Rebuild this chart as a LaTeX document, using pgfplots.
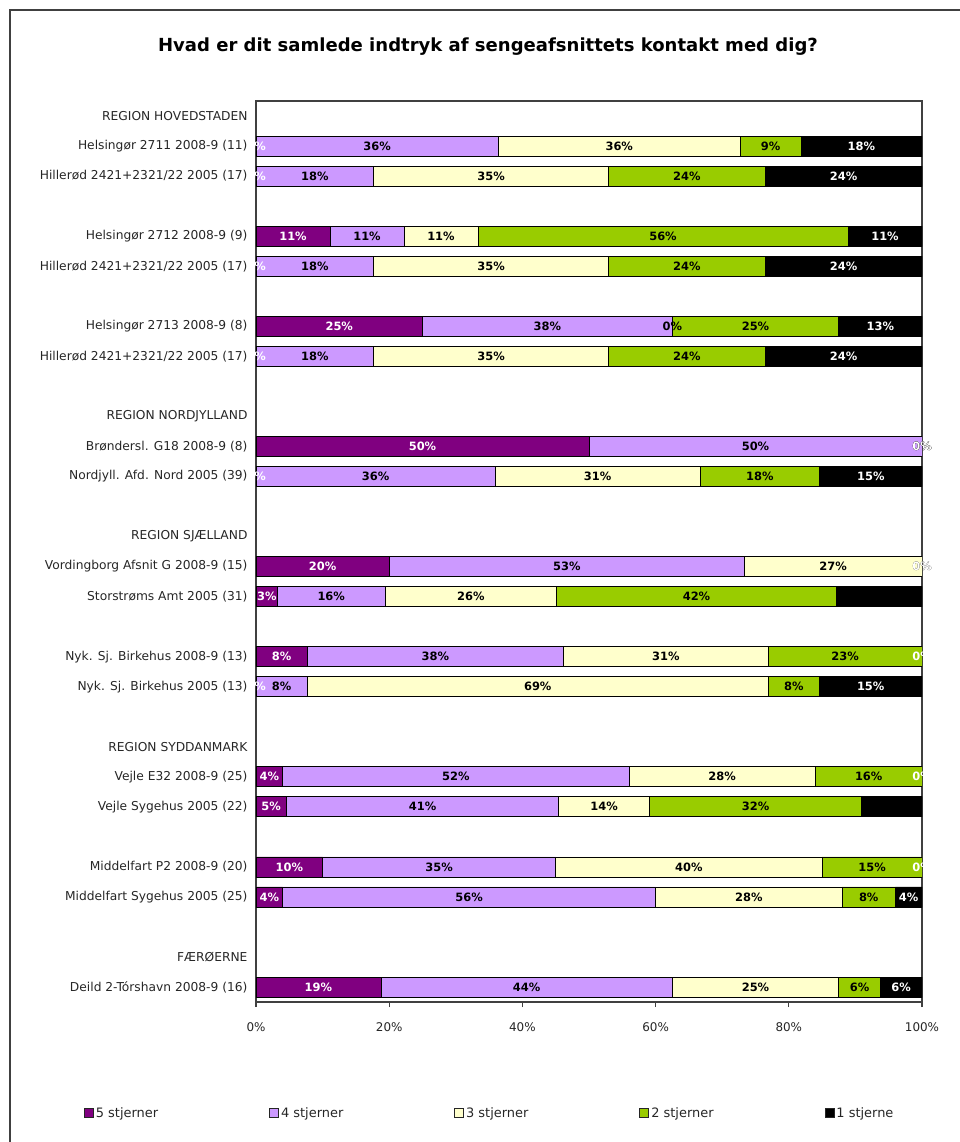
\documentclass[border=0pt]{standalone}
\usepackage{pgfplots}
\pgfplotsset{compat=1.18}
\usepackage{fontspec}
\setmainfont{DejaVu Sans}
\newfontfamily\titlefont{DejaVu Sans}
\definecolor{cfive}{HTML}{800080}
\definecolor{cfour}{HTML}{CC99FF}
\definecolor{cthree}{HTML}{FFFFCC}
\definecolor{ctwo}{HTML}{99CC00}
\definecolor{cone}{HTML}{000000}
\definecolor{frame}{HTML}{404040}
\pgfplotsset{geom/.style={at={(256bp,-1002bp)}, anchor=south west,
  scale only axis, width=666bp, height=901bp,
  xmin=0, xmax=100, ymin=0.5, ymax=30.5, y dir=reverse}}
\begin{document}
\begin{tikzpicture}
\useasboundingbox (0,0) rectangle (960bp,-1142bp);
\draw[frame, line width=1.3bp] (10bp,-1142bp) -- (10bp,-10bp) -- (960bp,-10bp);
\node[font=\titlefont\bfseries\fontsize{18.1}{20}\selectfont] at (488bp,-47bp) {Hvad er dit samlede indtryk af sengeafsnittets kontakt med dig?};
\begin{axis}[
  geom,
  xbar stacked, bar width=20bp,
  ytick={1,...,30},
  yticklabels={REGION HOVEDSTADEN,Helsingør 2711 2008-9 (11),Hillerød 2421+2321/22 2005 (17),,Helsingør 2712 2008-9 (9),Hillerød 2421+2321/22 2005 (17),,Helsingør 2713 2008-9 (8),Hillerød 2421+2321/22 2005 (17),,REGION NORDJYLLAND,Brøndersl. G18 2008-9 (8),Nordjyll. Afd. Nord 2005 (39),,REGION SJÆLLAND,Vordingborg Afsnit G 2008-9 (15),Storstrøms Amt 2005 (31),,Nyk. Sj. Birkehus 2008-9 (13),Nyk. Sj. Birkehus 2005 (13),,REGION SYDDANMARK,Vejle E32 2008-9 (25),Vejle Sygehus 2005 (22),,Middelfart P2 2008-9 (20),Middelfart Sygehus 2005 (25),,FÆRØERNE,Deild 2-Tórshavn 2008-9 (16)},
  y tick style={draw=none},
  yticklabel style={font=\fontsize{12.3}{14}\selectfont},
  xtick={0,20,40,60,80,100},
  xticklabel={\pgfmathprintnumber{\tick}\%},
  /pgf/number format/assume math mode=true,
  xtick pos=left, tick align=outside, major tick length=5bp,
  x tick style={frame, line width=1.3bp},
  axis line style={frame, line width=1.3bp},
  ticklabel style={text=black!85},
  xticklabel style={font=\fontsize{12}{14}\selectfont, yshift=-12bp},
  nodes near coords={\pgfmathprintnumber[fixed,precision=0]{\pgfplotspointmeta}\%},
  every node near coord/.append style={anchor=center, font=\bfseries\fontsize{11.5}{13}\selectfont},
  legend style={at={(axis description cs:0.351,-0.123)}, anchor=center, draw=none, fill=none,
    legend columns=5, font=\fontsize{13}{15}\selectfont, text=black!85,
    /tikz/every even column/.append style={column sep=109bp}},
  sq/.style={legend image code/.code={\draw[##1, draw=black!85, line width=0.8bp] (0bp,-4.5bp) rectangle (9bp,4.5bp);}},
]
\addplot[fill=cfive, draw=black, line width=0.7bp, sq, every node near coord/.append style={text=white}] coordinates {
(0,2) (0,3) (11.11,5) (0,6) (25,8) (0,9) (50,12) (0,13) (20,16) (3.23,17) (7.69,19) (0,20) (4,23) (4.55,24) (10,26) (4,27) (18.75,30)};
\addplot[fill=cfour, draw=black, line width=0.7bp, sq, every node near coord/.append style={text=black}] coordinates {
(36.36,2) (17.65,3) (11.11,5) (17.65,6) (37.5,8) (17.65,9) (50,12) (35.90,13) (53.33,16) (16.13,17) (38.46,19) (7.69,20) (52,23) (40.91,24) (35,26) (56,27) (43.75,30)};
\addplot[fill=cthree, draw=black, line width=0.7bp, sq, every node near coord/.append style={text=black}] coordinates {
(36.36,2) (35.29,3) (11.11,5) (35.29,6) (0,8) (35.29,9) (0,12) (30.77,13) (26.67,16) (25.81,17) (30.77,19) (69.23,20) (28,23) (13.64,24) (40,26) (28,27) (25,30)};
\addplot[fill=ctwo, draw=black, line width=0.7bp, sq, every node near coord/.append style={text=black}] coordinates {
(9.09,2) (23.53,3) (55.56,5) (23.53,6) (25,8) (23.53,9) (0,12) (17.95,13) (0,16) (41.94,17) (23.08,19) (7.69,20) (16,23) (31.82,24) (15,26) (8,27) (6.25,30)};
\addplot[fill=cone, draw=black, line width=0.7bp, sq, every node near coord/.append style={text=white}] coordinates {
(18.18,2) (23.53,3) (11.11,5) (23.53,6) (12.5,8) (23.53,9) (0,12) (15.38,13) (0,16) (12.90,17) (0,19) (15.38,20) (0,23) (9.09,24) (0,26) (4,27) (6.25,30)};
\legend{5 stjerner,4 stjerner,3 stjerner,2 stjerner,1 stjerne}
\end{axis}
% zero-value labels (the stacked plot omits labels of empty segments)
\begin{axis}[
  geom, hide axis, clip=false,
  nodes near coords={0\%},
  every node near coord/.append style={anchor=center, font=\bfseries\fontsize{11.5}{13}\selectfont},
]
\addplot[only marks, mark=*, mark size=0pt, mark options={draw=none, fill=none}, every node near coord/.append style={text=black}] coordinates {
(62.5,8) (100,12) (100,12) (100,16)};
\addplot[only marks, mark=*, mark size=0pt, mark options={draw=none, fill=none}, every node near coord/.append style={text=white}] coordinates {
(0,2) (0,3) (0,6) (0,9) (0,13) (0,20) (100,12) (100,16) (100,19) (100,23) (100,26)};
\end{axis}
\end{tikzpicture}
\end{document}
